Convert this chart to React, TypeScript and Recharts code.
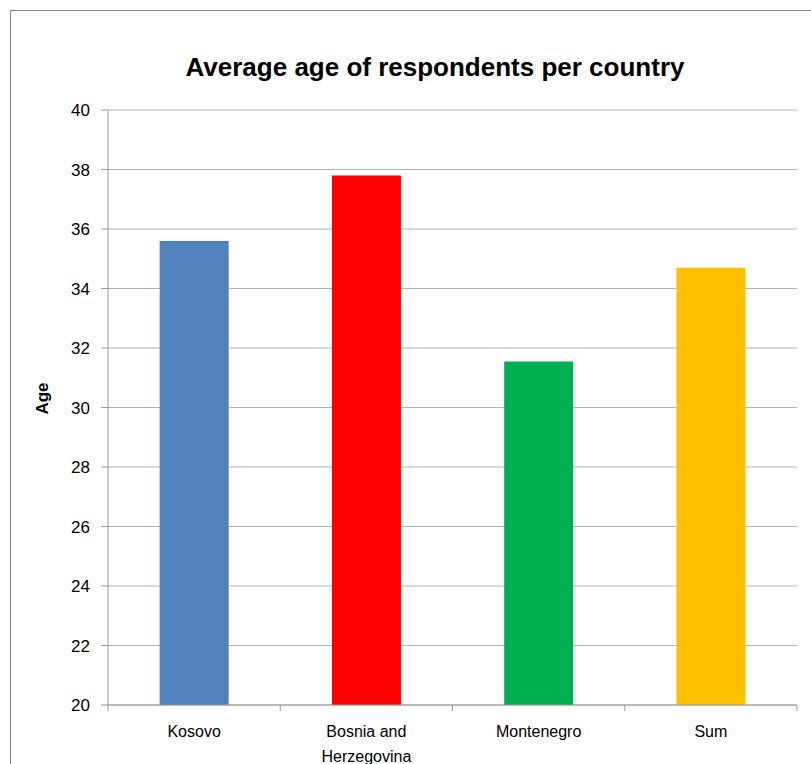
import { BarChart, Bar, XAxis, YAxis, CartesianGrid, Cell, Text } from "recharts"

const countries = ["Kosovo", "Bosnia and Herzegovina", "Montenegro", "Sum"]
const averageAge = [35.6, 37.8, 31.55, 34.7]
const barColors = ["#4F81BD", "#FF0000", "#00B050", "#FFC000"]
const ageTicks = [20, 22, 24, 26, 28, 30, 32, 34, 36, 38, 40]

const data = countries.map((name, i) => ({ name, age: averageAge[i] }))

const W = 811
const H = 764
const LEFT = 108
const RIGHT = 14
const TOP = 110
const BOTTOM = 59
const band = (W - LEFT - RIGHT) / countries.length

const font = "'Liberation Sans', Arial, sans-serif"

function CountryTick(props: any) {
  const { x, payload, index } = props
  const axisY = H - BOTTOM
  return (
    <g>
      <line x1={x - band / 2} x2={x - band / 2} y1={axisY} y2={axisY + 6} stroke="#999" />
      {index === countries.length - 1 && (
        <line x1={x + band / 2} x2={x + band / 2} y1={axisY} y2={axisY + 6} stroke="#999" />
      )}
      <Text
        x={x}
        y={axisY + 21}
        width={120}
        textAnchor="middle"
        verticalAnchor="start"
        fontSize={16}
        fill="#000"
        fontFamily={font}
        lineHeight={25}
      >
        {payload.value}
      </Text>
    </g>
  )
}

export default function App() {
  return (
    <div style={{ position: "fixed", left: 0, top: 0, width: W, height: H, overflow: "hidden", background: "#fff" }}>
      <div
        style={{
          position: "absolute",
          left: 10,
          top: 10,
          width: 900,
          height: 900,
          border: "1px solid #888",
        }}
      />
      <div
        style={{
          position: "absolute",
          left: 135,
          top: 51,
          width: 600,
          textAlign: "center",
          fontFamily: font,
          fontWeight: "bold",
          fontSize: 26,
          lineHeight: "32px",
          color: "#000",
        }}
      >
        Average age of respondents per country
      </div>
      <div style={{ position: "absolute", left: 0, top: 0 }}>
        <BarChart
          width={W}
          height={H}
          data={data}
          margin={{ top: TOP, right: RIGHT, bottom: 0, left: 0 }}
          barCategoryGap="30%"
        >
          <CartesianGrid vertical={false} stroke="#b3b3b3" />
          <XAxis
            dataKey="name"
            height={BOTTOM}
            tickLine={false}
            axisLine={{ stroke: "#999" }}
            tick={<CountryTick />}
            interval={0}
          />
          <YAxis
            width={LEFT}
            domain={[20, 40]}
            ticks={ageTicks}
            allowDataOverflow
            tickLine={{ stroke: "#999" }}
            axisLine={{ stroke: "#999" }}
            tickSize={7}
            tickMargin={11}
            tick={{ fontSize: 17, fill: "#000", fontFamily: font }}
            label={{
              value: "Age",
              angle: -90,
              position: "insideLeft",
              offset: 42,
              dy: -9,
              style: { fontSize: 17, fontWeight: "bold", fill: "#000", fontFamily: font, textAnchor: "middle" },
            }}
          />
          <Bar dataKey="age" isAnimationActive={false}>
            {data.map((d, i) => (
              <Cell key={d.name} fill={barColors[i]} />
            ))}
          </Bar>
        </BarChart>
      </div>
    </div>
  )
}
